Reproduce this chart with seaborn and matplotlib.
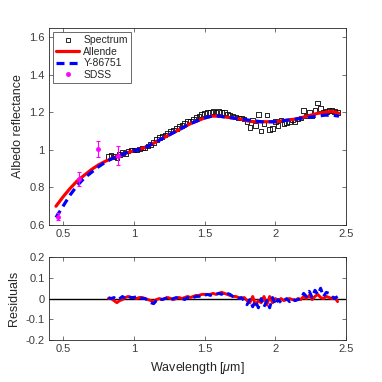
import numpy as np
import pandas as pd
import matplotlib
matplotlib.use("Agg")
import matplotlib.pyplot as plt
import seaborn as sns
from matplotlib.ticker import FormatStrFormatter
from matplotlib.lines import Line2D

# ---- data ----
spec_wl = [0.82, 0.84, 0.86, 0.88, 0.90, 0.92, 0.94, 0.96, 0.98, 1.00,
           1.02, 1.04, 1.06, 1.08, 1.10, 1.12, 1.14, 1.16, 1.18, 1.20,
           1.22, 1.24, 1.26, 1.28, 1.30, 1.32, 1.34, 1.36, 1.38, 1.40,
           1.42, 1.44, 1.46, 1.48, 1.50, 1.52, 1.54, 1.56, 1.58, 1.60,
           1.62, 1.64, 1.66, 1.68, 1.70, 1.72, 1.74, 1.76, 1.78, 1.80,
           1.82, 1.84, 1.86, 1.88, 1.90, 1.92, 1.94, 1.96, 1.98, 2.00,
           2.02, 2.04, 2.06, 2.08, 2.10, 2.12, 2.14, 2.16, 2.18, 2.20,
           2.22, 2.24, 2.26, 2.28, 2.30, 2.32, 2.34, 2.36, 2.38, 2.40,
           2.42, 2.44]
spec_refl = [0.965, 0.97, 0.965, 0.96, 0.975, 0.985, 0.98, 0.995, 1.0, 1.0,
             1.0, 1.005, 1.01, 1.01, 1.02, 1.03, 1.04, 1.055, 1.065, 1.07,
             1.08, 1.09, 1.10, 1.105, 1.115, 1.125, 1.13, 1.14, 1.15, 1.155,
             1.165, 1.175, 1.18, 1.19, 1.195, 1.20, 1.20, 1.205, 1.20, 1.205,
             1.20, 1.20, 1.19, 1.185, 1.18, 1.175, 1.17, 1.17, 1.165, 1.15,
             1.12, 1.16, 1.13, 1.19, 1.10, 1.14, 1.185, 1.11, 1.115, 1.15,
             1.13, 1.16, 1.14, 1.145, 1.15, 1.16, 1.15, 1.165, 1.17, 1.21,
             1.18, 1.20, 1.18, 1.21, 1.25, 1.22, 1.20, 1.205, 1.21, 1.21,
             1.205, 1.20]

model_wl = [0.45, 0.50, 0.55, 0.60, 0.65, 0.70, 0.75, 0.80, 0.85, 0.90,
            0.95, 1.00, 1.05, 1.10, 1.15, 1.20, 1.25, 1.30, 1.35, 1.40,
            1.45, 1.50, 1.55, 1.60, 1.65, 1.70, 1.75, 1.80, 1.85, 1.90,
            1.95, 2.00, 2.05, 2.10, 2.15, 2.20, 2.25, 2.30, 2.35, 2.40, 2.45]
allende = [0.70, 0.75, 0.795, 0.835, 0.865, 0.895, 0.92, 0.94, 0.955, 0.97,
           0.985, 0.995, 1.005, 1.02, 1.04, 1.06, 1.08, 1.10, 1.12, 1.14,
           1.155, 1.17, 1.18, 1.18, 1.175, 1.17, 1.165, 1.155, 1.15, 1.15,
           1.15, 1.15, 1.155, 1.16, 1.165, 1.175, 1.185, 1.195, 1.20, 1.205, 1.195]
y86751 = [0.64, 0.70, 0.76, 0.81, 0.85, 0.88, 0.91, 0.935, 0.955, 0.97,
          0.985, 0.995, 1.005, 1.02, 1.04, 1.06, 1.08, 1.10, 1.12, 1.14,
          1.155, 1.17, 1.18, 1.18, 1.175, 1.17, 1.165, 1.16, 1.155, 1.15,
          1.15, 1.15, 1.155, 1.16, 1.165, 1.17, 1.175, 1.18, 1.185, 1.185, 1.18]

sdss_wl = [0.465, 0.61, 0.745, 0.885]
sdss_refl = [0.645, 0.845, 1.005, 0.97]
sdss_err = [0.02, 0.035, 0.045, 0.05]

res_allende = [0.0, 0.0, -0.01, -0.02, -0.01, -0.005, 0.005, 0.01, 0.005, 0.005,
               0.0, 0.005, 0.005, 0.0, -0.005, -0.01, -0.015, -0.005, 0.0, -0.005,
               0.0, 0.005, 0.0, -0.005, 0.0, 0.005, 0.0, 0.005, 0.01, 0.005,
               0.01, 0.015, 0.015, 0.02, 0.02, 0.02, 0.02, 0.025, 0.02, 0.025,
               0.03, 0.025, 0.02, 0.015, 0.01, 0.01, 0.005, 0.0, 0.005, -0.01,
               -0.02, 0.01, -0.03, -0.01, -0.02, 0.01, -0.03, 0.01, -0.02, 0.0,
               -0.01, 0.0, -0.01, -0.005, 0.0, -0.005, -0.01, 0.0, -0.005, 0.01,
               0.0, 0.015, -0.005, 0.01, 0.02, 0.005, 0.0, 0.01, 0.005, 0.0,
               0.005, -0.015]
res_y86751 = [0.005, 0.0, 0.005, -0.005, 0.0, 0.01, 0.0, 0.01, 0.005, 0.005,
              0.01, 0.005, 0.0, 0.0, -0.01, -0.02, -0.025, -0.01, 0.0, -0.005,
              0.0, 0.005, -0.005, 0.0, 0.005, 0.0, 0.0, -0.005, 0.005, 0.0,
              0.005, 0.01, 0.01, 0.015, 0.015, 0.02, 0.015, 0.02, 0.02, 0.025,
              0.02, 0.03, 0.025, 0.02, 0.01, 0.005, 0.0, 0.005, -0.01, -0.03,
              -0.005, -0.04, -0.01, -0.045, 0.0, -0.04, -0.01, -0.045, 0.005, -0.03,
              -0.005, -0.02, -0.01, 0.0, -0.015, 0.0, -0.01, -0.005, 0.0, 0.025,
              0.01, 0.035, 0.005, 0.04, 0.02, 0.05, 0.01, 0.03, 0.025, 0.01,
              0.0, 0.01]

# ---- style ----
sns.set_theme(style="ticks")
plt.rcParams["font.family"] = ["Liberation Sans", "DejaVu Sans"]
plt.rcParams["mathtext.fontset"] = "custom"
plt.rcParams["mathtext.it"] = "Liberation Sans:italic"
plt.rcParams["mathtext.rm"] = "Liberation Sans"
grey = "#262626"
tick_grey = "#3c3c3c"

fig = plt.figure(figsize=(3.82, 3.82), dpi=100)
ax = fig.add_axes([0.128, 0.411, 0.778, 0.516])
axr = fig.add_axes([0.128, 0.110, 0.778, 0.217])

# ---- top panel ----
sns.scatterplot(x=spec_wl, y=spec_refl, ax=ax, marker="s", s=11,
                facecolor="none", edgecolor="black", linewidth=0.6,
                zorder=2)
sns.lineplot(x=model_wl, y=allende, ax=ax, color="red", linewidth=2.3,
             zorder=3)
sns.lineplot(x=model_wl, y=y86751, ax=ax, color="blue", linewidth=2.3,
             linestyle=(0, (2.5, 1.6)), zorder=4)
ax.errorbar(sdss_wl, sdss_refl, yerr=sdss_err, fmt=".", color="magenta",
            markersize=5, elinewidth=0.8, capsize=1.5, capthick=0.8,
            zorder=5)

ax.set_xlim(0.4, 2.5)
ax.set_ylim(0.6, 1.65)
ax.set_yticks([0.6, 0.8, 1.0, 1.2, 1.4, 1.6])
ax.set_ylabel("Albedo reflectance", fontsize=9, color=grey)
ax.set_xlabel("")

handles = [
    Line2D([], [], marker="s", linestyle="none", markersize=3,
           markerfacecolor="none", markeredgecolor="black", markeredgewidth=0.6),
    Line2D([], [], color="red", linewidth=2.3),
    Line2D([], [], color="blue", linewidth=2.3, linestyle=(0, (2.5, 1.6))),
    Line2D([], [], marker=".", linestyle="none", color="magenta", markersize=5),
]
leg = ax.legend(handles, ["Spectrum", "Allende", "Y-86751", "SDSS"],
                loc="upper left", fontsize=7.5, frameon=True, fancybox=False,
                handlelength=2.2, borderpad=0.3, labelspacing=0.15,
                handletextpad=0.4, borderaxespad=0.4)
leg.get_frame().set_edgecolor(grey)
leg.get_frame().set_linewidth(0.6)

# ---- residual panel ----
axr.axhline(0, color="black", linewidth=1.0, zorder=1)
sns.lineplot(x=spec_wl, y=res_allende, ax=axr, color="red", linewidth=2.1,
             zorder=2)
sns.lineplot(x=spec_wl, y=res_y86751, ax=axr, color="blue", linewidth=2.1,
             linestyle=(0, (2.5, 1.6)), zorder=3)
axr.set_xlim(0.4, 2.5)
axr.set_ylim(-0.2, 0.2)
axr.set_yticks([-0.2, -0.1, 0, 0.1, 0.2])
axr.set_ylabel("Residuals", fontsize=9, color=grey)
axr.set_xlabel(r"Wavelength [$\mu$m]", fontsize=9, color=grey)

for a in (ax, axr):
    a.set_xticks([0.5, 1.0, 1.5, 2.0, 2.5])
    a.xaxis.set_major_formatter(FormatStrFormatter("%g"))
    a.yaxis.set_major_formatter(FormatStrFormatter("%g"))
    a.tick_params(direction="in", top=True, right=True, length=3, width=0.5,
                  labelsize=8, colors=tick_grey, pad=3)
    for s in a.spines.values():
        s.set_color(grey)
        s.set_linewidth(0.6)

fig.savefig("out.png", dpi=100)
